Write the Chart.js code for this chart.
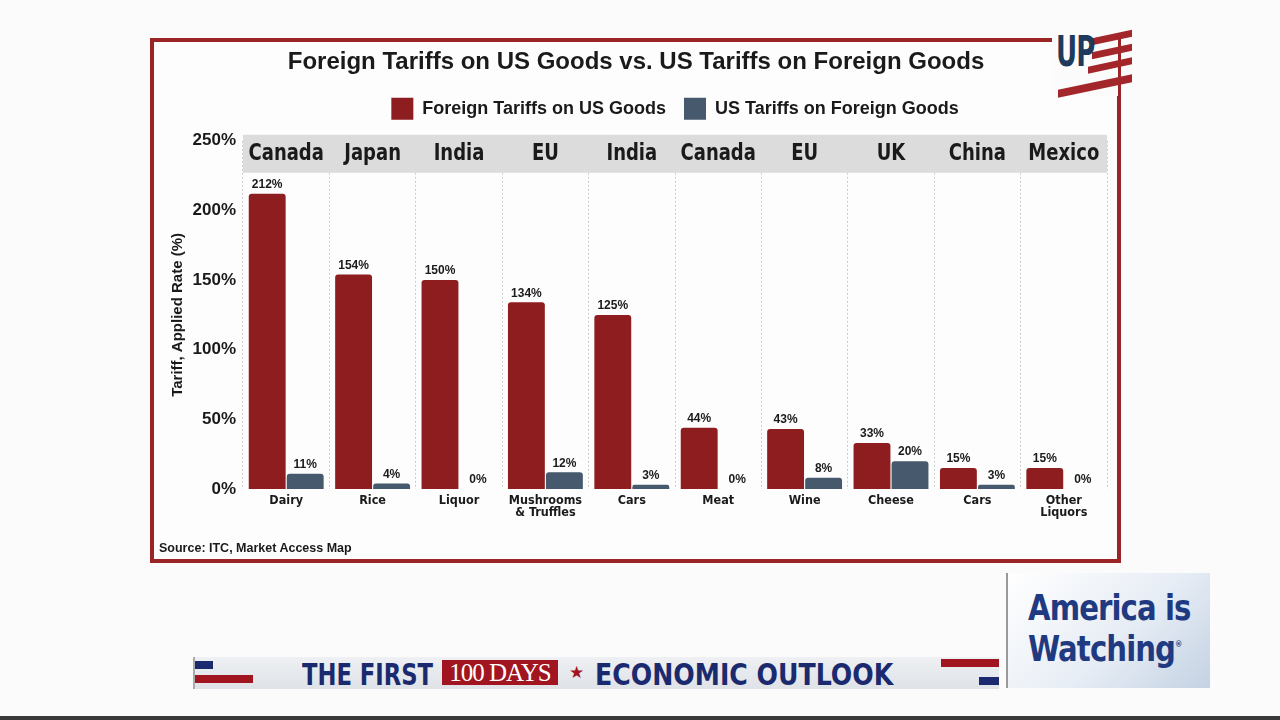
<!DOCTYPE html>
<html>
<head>
<meta charset="utf-8">
<script src="https://cdn.jsdelivr.net/npm/chart.js@4.4.1/dist/chart.umd.min.js"></script>
<style>
  html,body{margin:0;padding:0;}
  body{width:1280px;height:720px;position:relative;overflow:hidden;background:#fbfbfb;font-family:"Liberation Sans",Arial,sans-serif;}
  #frame{position:absolute;left:150px;top:38px;width:971px;height:525px;border:4px solid #9b2427;box-sizing:border-box;background:#fdfdfd;}
  #chartWrap{position:absolute;left:154px;top:42px;width:963px;height:517px;}
  #source{position:absolute;left:159px;top:541px;font:bold 12.5px "Liberation Sans",Arial,sans-serif;color:#1a1a1a;}
  #logo{position:absolute;left:1052px;top:24px;width:66px;height:72px;background:#fbfbfb;}
  #logo .up{position:absolute;left:4px;top:2px;font:bold 34px "DejaVu Sans Condensed",sans-serif;color:#1e3a5c;letter-spacing:-1px;transform:scale(0.85,1.25);transform-origin:left top;}
  #logo .s{position:absolute;background:#a3262a;transform:skewY(-12deg);}
  #banner{position:absolute;left:193px;top:657px;width:804px;height:32px;background:linear-gradient(#eef0f3,#dfe2e7);border-left:2px solid #aaa;}
  #banner .w{position:absolute;top:0;height:32px;line-height:33px;font:bold 30px "DejaVu Sans Condensed",sans-serif;color:#1b2a6e;white-space:nowrap;transform-origin:left center;}
  #banner .days{position:absolute;left:247px;top:3px;width:116px;height:25px;background:#a0151f;color:#fff;font:25px "Liberation Serif",serif;line-height:26px;text-align:center;white-space:nowrap;letter-spacing:-1px;}
  #banner .star{position:absolute;left:374px;top:0;line-height:32px;color:#a0151f;font-size:17px;}
  #awbox{position:absolute;left:1006px;top:573px;width:204px;height:115px;background:linear-gradient(135deg,#ffffff 0%,#e7edf5 55%,#c4d2e3 100%);border-left:2px solid #999;box-sizing:border-box;}
  #awbox .a{position:absolute;left:20px;top:16px;font:bold 36px "DejaVu Sans Condensed",sans-serif;color:#1f3a80;line-height:37px;letter-spacing:-1px;transform:scaleX(0.9);transform-origin:left top;white-space:nowrap;}
  #bottomline{position:absolute;left:0;top:716px;width:1280px;height:4px;background:#3a3a3a;}
</style>
</head>
<body>
<div id="frame"></div>
<div id="chartWrap"><canvas id="c" width="963" height="517"></canvas></div>
<div id="source">Source: ITC, Market Access Map</div>
<div id="logo">
  <div class="s" style="left:40px;top:10px;width:40px;height:7px;"></div>
  <div class="s" style="left:40px;top:24px;width:40px;height:7px;"></div>
  <div class="s" style="left:36px;top:38px;width:44px;height:7px;"></div>
  <div class="s" style="left:6px;top:58px;width:74px;height:8px;"></div>
  <div class="up">UP</div>
</div>
<div id="banner">
  <div style="position:absolute;left:0;top:4px;width:18px;height:8px;background:#1b2a6e;"></div>
  <div style="position:absolute;left:0;top:18px;width:58px;height:8px;background:#a0151f;"></div>
  <div style="position:absolute;right:0;top:2px;width:58px;height:8px;background:#a0151f;"></div>
  <div style="position:absolute;right:0;top:20px;width:20px;height:8px;background:#1b2a6e;"></div>
  <div class="w" style="left:107px;transform:scaleX(0.84);">THE FIRST</div>
  <div class="days">100 DAYS</div>
  <div class="star">★</div>
  <div class="w" style="left:400px;transform:scaleX(0.935);">ECONOMIC OUTLOOK</div>
</div>
<div id="awbox"><div class="a">America is<br>Watching<sup style="font-size:9px;vertical-align:14px;">®</sup></div></div>
<div id="bottomline"></div>

<script>
// ---- data ----
const countries = ['Canada','Japan','India','EU','India','Canada','EU','UK','China','Mexico'];
const products = ['Dairy','Rice','Liquor',['Mushrooms','& Truffles'],'Cars','Meat','Wine','Cheese','Cars',['Other','Liquors']];
const foreignTariffs = [212,154,150,134,125,44,43,33,15,15];
const usTariffs = [11,4,0,12,3,0,8,20,3,0];
const seriesNames = ['Foreign Tariffs on US Goods','US Tariffs on Foreign Goods'];
const yMin = 0, yMax = 250, yStep = 50;

const RED = '#8e1d20';
const BLUE = '#46596d';
const NARROW = '"Liberation Sans Narrow","DejaVu Sans Condensed","Arial Narrow",sans-serif';
const SANS = '"Liberation Sans",Arial,sans-serif';

const legendGap = {
  id:'legendGap',
  beforeInit(chart){
    const fit = chart.legend.fit;
    chart.legend.fit = function(){ fit.bind(chart.legend)(); this.height += 11; };
  },
  afterLayout(chart){
    // centre the legend over the plot panel rather than the whole canvas
    const ca = chart.chartArea, lg = chart.legend;
    const shift = (ca.left + ca.right) / 2 - (lg.left + lg.right) / 2;
    lg.left += shift; lg.right += shift;
  }
};

const strip = {
  id:'strip',
  beforeDatasetsDraw(chart){
    const {ctx, chartArea, scales} = chart;
    ctx.save();
    ctx.fillStyle = '#dcdcdc';
    ctx.fillRect(chartArea.left, chartArea.top - 6, chartArea.right - chartArea.left, 38);
    ctx.fillStyle = '#1a1a1a';
    ctx.font = 'bold 23px ' + NARROW;
    ctx.textAlign = 'center';
    ctx.textBaseline = 'middle';
    const sx = 0.87;
    countries.forEach((c,i)=>{
      const x = scales.x.getPixelForValue(i);
      ctx.save();
      ctx.translate(x, chartArea.top + 13);
      ctx.scale(sx, 1);
      ctx.fillText(c, 0, 0);
      ctx.restore();
    });
    ctx.restore();
  }
};

const valueLabels = {
  id:'valueLabels',
  afterDatasetsDraw(chart){
    const {ctx} = chart;
    ctx.save();
    ctx.fillStyle = '#1a1a1a';
    ctx.font = 'bold 12px ' + SANS;
    ctx.textAlign = 'center';
    ctx.textBaseline = 'bottom';
    chart.data.datasets.forEach((ds, di)=>{
      const meta = chart.getDatasetMeta(di);
      meta.data.forEach((bar, i)=>{
        ctx.fillText(ds.data[i] + '%', bar.x, bar.y - 3);
      });
    });
    ctx.restore();
  }
};

new Chart(document.getElementById('c'), {
  type:'bar',
  data:{
    labels: products,
    datasets:[
      {label:seriesNames[0], data:foreignTariffs, backgroundColor:RED, borderRadius:3, barPercentage:0.97, categoryPercentage:0.88},
      {label:seriesNames[1], data:usTariffs, backgroundColor:BLUE, borderRadius:3, barPercentage:0.97, categoryPercentage:0.88}
    ]
  },
  options:{
    responsive:false,
    animation:false,
    devicePixelRatio:1,
    layout:{padding:{left:11,right:10,top:0,bottom:0}},
    plugins:{
      title:{display:true, text:'Foreign Tariffs on US Goods vs. US Tariffs on Foreign Goods',
        font:{family:SANS, size:24, weight:'bold'}, color:'#1a1a1a', padding:{top:6,bottom:3}},
      legend:{display:true, position:'top',
        labels:{boxWidth:22, boxHeight:22, padding:18, color:'#1a1a1a', font:{family:SANS, size:18, weight:'bold'}}},
      tooltip:{enabled:false}
    },
    scales:{
      x:{
        offset:true,
        grid:{display:true, offset:true, color:'#cccccc', lineWidth:1, drawTicks:false},
        border:{display:false, dash:[2,2]},
        ticks:{color:'#1a1a1a', font:{family:NARROW, size:12.5, weight:'bold', lineHeight:0.96}, padding:6, maxRotation:0, autoSkip:false},
        afterFit(s){ s.height = 70; }
      },
      y:{
        min:yMin, max:yMax,
        grid:{display:false, drawTicks:false},
        border:{display:false},
        ticks:{stepSize:yStep, color:'#1a1a1a', padding:7, font:{family:SANS, size:17, weight:'bold'}, callback:v=>v+'%'},
        title:{display:true, text:'Tariff, Applied Rate (%)', color:'#1a1a1a', font:{family:SANS, size:15, weight:'bold'}, padding:{top:4,bottom:0}},
        afterFit(s){ s.width = 78; }
      }
    }
  },
  plugins:[legendGap, strip, valueLabels]
});
</script>
</body>
</html>
